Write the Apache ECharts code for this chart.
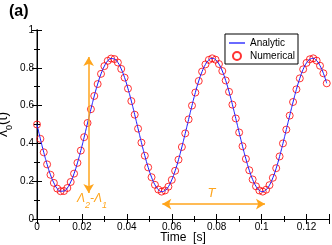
<!DOCTYPE html>
<html><head><meta charset="utf-8">
<script src="https://cdn.jsdelivr.net/npm/echarts@6/dist/echarts.min.js"></script>
<style>html,body{margin:0;padding:0;background:#fff}#c{width:332px;height:245px}</style>
</head><body><div id="c"></div>
<script>
// time samples [s]
var times = [0,0.0015,0.003,0.0045,0.006,0.0075,0.009,0.0105,0.012,0.0135,
0.015,0.0165,0.018,0.0195,0.021,0.0225,0.024,0.0255,0.027,0.0285,
0.03,0.0315,0.033,0.0345,0.036,0.0375,0.039,0.0405,0.042,0.0435,
0.045,0.0465,0.048,0.0495,0.051,0.0525,0.054,0.0555,0.057,0.0585,
0.06,0.0615,0.063,0.0645,0.066,0.0675,0.069,0.0705,0.072,0.0735,
0.075,0.0765,0.078,0.0795,0.081,0.0825,0.084,0.0855,0.087,0.0885,
0.09,0.0915,0.093,0.0945,0.096,0.0975,0.099,0.1005,0.102,0.1035,
0.105,0.1065,0.108,0.1095,0.111,0.1125,0.114,0.1155,0.117,0.1185,
0.12,0.1215,0.123,0.1245,0.126,0.1275,0.129];
// lambda_0(t) values
var lambda0 = [0.500,0.424,0.353,0.289,0.234,0.191,0.161,0.147,0.148,0.164,
0.196,0.240,0.297,0.362,0.433,0.508,0.581,0.651,0.714,0.768,
0.809,0.837,0.849,0.846,0.828,0.794,0.748,0.690,0.624,0.552,
0.478,0.404,0.335,0.273,0.221,0.181,0.156,0.145,0.151,0.171,
0.207,0.255,0.314,0.381,0.453,0.527,0.600,0.669,0.730,0.780,
0.818,0.842,0.850,0.843,0.820,0.783,0.733,0.673,0.605,0.532,
0.458,0.385,0.318,0.258,0.209,0.173,0.151,0.145,0.155,0.179,
0.218,0.269,0.331,0.400,0.473,0.547,0.619,0.686,0.744,0.792,
0.826,0.845,0.850,0.838,0.811,0.771,0.718];
var xTicks = [0,0.02,0.04,0.06,0.08,0.1,0.12];
var yTicks = [0,0.2,0.4,0.6,0.8,1];
var seriesNames = ['Analytic','Numerical'];

var pts = times.map(function(t,i){return [t, lambda0[i]];});
var ORANGE = '#FFA51C';
var FONT = 'Liberation Sans, Arial';
function fmt(list){return function(v){
  for (var i=0;i<list.length;i++){ if (Math.abs(v-list[i])<1e-9) return String(list[i]); }
  return '';
};}
var chart = echarts.init(document.getElementById('c'), null, {renderer:'canvas'});
chart.setOption({
  animation:false,
  backgroundColor:'#fff',
  title:{text:'(a)', left:9, top:4, padding:0,
    textStyle:{fontFamily:FONT, fontWeight:'bold', fontSize:16, color:'#000'}},
  grid:{left:37, right:3, top:30, bottom:26, containLabel:false, outerBoundsMode:'none'},
  legend:{
    data:[{name:seriesNames[0], icon:'path://M0,0h16v2h-16z', itemStyle:{color:'#6a6aff'}},
          {name:seriesNames[1], icon:'circle'}],
    orient:'vertical', right:34, top:34, itemWidth:16, itemHeight:8, itemGap:3,
    padding:[4,3,3,4], borderColor:'#000', borderWidth:1, backgroundColor:'#fff',
    textStyle:{fontFamily:FONT, fontSize:10, color:'#000'},
    selectedMode:false, z:10
  },
  xAxis:[{
    type:'value', min:0, max:0.13, interval:0.02,
    name:'Time  [s]', nameLocation:'middle', nameGap:13, nameMoveOverlap:false,
    nameTextStyle:{fontFamily:FONT, fontSize:12, color:'#000'},
    axisLine:{show:true, lineStyle:{color:'#000', width:1}},
    axisTick:{show:true, inside:true, length:5, lineStyle:{color:'#000'}},
    minorTick:{show:true, splitNumber:2, length:3, lineStyle:{color:'#000'}},
    axisLabel:{fontFamily:FONT, fontSize:10, color:'#000', margin:3, formatter:fmt(xTicks)},
    splitLine:{show:false}
  },{
    type:'value', position:'top', min:0, max:0.13, interval:0.02,
    axisLine:{show:true, lineStyle:{color:'#000', width:1}},
    axisTick:{show:true, inside:true, length:5, lineStyle:{color:'#000'}},
    minorTick:{show:true, splitNumber:2, length:3, lineStyle:{color:'#000'}},
    axisLabel:{show:false}, splitLine:{show:false}
  }],
  yAxis:[{
    type:'value', min:0, max:1, interval:0.2,
    name:'{a|λ}{s|0}{a|(t)}', nameLocation:'middle', nameGap:23, nameMoveOverlap:false,
    nameTextStyle:{fontFamily:FONT, color:'#000',
      rich:{a:{fontFamily:FONT, fontSize:14, color:'#000', lineHeight:18, verticalAlign:'top'},
            s:{fontFamily:FONT, fontSize:9, color:'#000', lineHeight:18, verticalAlign:'bottom'}}},
    axisLine:{show:true, lineStyle:{color:'#888', width:2}},
    axisTick:{show:true, inside:true, length:5, lineStyle:{color:'#000'}},
    minorTick:{show:true, splitNumber:2, length:3, lineStyle:{color:'#000'}},
    axisLabel:{fontFamily:FONT, fontSize:10, color:'#000', margin:3, formatter:fmt(yTicks)},
    splitLine:{show:false}
  },{
    type:'value', position:'right', min:0, max:1, interval:0.2,
    axisLine:{show:true, lineStyle:{color:'#000', width:1}},
    axisTick:{show:true, inside:true, length:5, lineStyle:{color:'#000'}},
    minorTick:{show:true, splitNumber:2, length:3, lineStyle:{color:'#000'}},
    axisLabel:{show:false}, splitLine:{show:false}
  }],
  series:[{
    name:seriesNames[1], type:'scatter', data:pts,
    symbol:'circle', symbolSize:7,
    itemStyle:{color:'rgba(0,0,0,0)', borderColor:'#ff0000', borderWidth:1},
    silent:true, z:2,
    markLine:{
      silent:true, symbol:['arrow','arrow'], symbolSize:[8,9],
      lineStyle:{color:ORANGE, width:1.5, type:'solid'},
      label:{show:false},
      data:[
        [{coord:[0.023,0.857]},{coord:[0.023,0.138]}],
        [{coord:[0.0558,0.079]},{coord:[0.1015,0.079]}]
      ]
    },
    markPoint:{
      silent:true, symbol:'circle', symbolSize:1,
      itemStyle:{color:'rgba(0,0,0,0)'},
      data:[
        {coord:[0.0245,0.092], label:{show:true, position:'inside',
          formatter:'{a|Λ}{s|2}{a|-Λ}{s|1}',
          rich:{a:{fontFamily:FONT, fontStyle:'italic', fontSize:12, color:ORANGE, lineHeight:17, verticalAlign:'top'},
                s:{fontFamily:FONT, fontStyle:'italic', fontSize:9, color:ORANGE, lineHeight:17, verticalAlign:'bottom'}}}},
        {coord:[0.0777,0.134], label:{show:true, position:'inside', formatter:'T',
          fontFamily:FONT, fontStyle:'italic', fontSize:13, color:ORANGE}}
      ]
    }
  },{
    name:seriesNames[0], type:'line', data:pts, smooth:true,
    symbol:'none', showSymbol:false,
    lineStyle:{color:'#1a1aff', width:1}, itemStyle:{color:'#1a1aff'},
    silent:true, z:3
  }]
});
</script></body></html>
